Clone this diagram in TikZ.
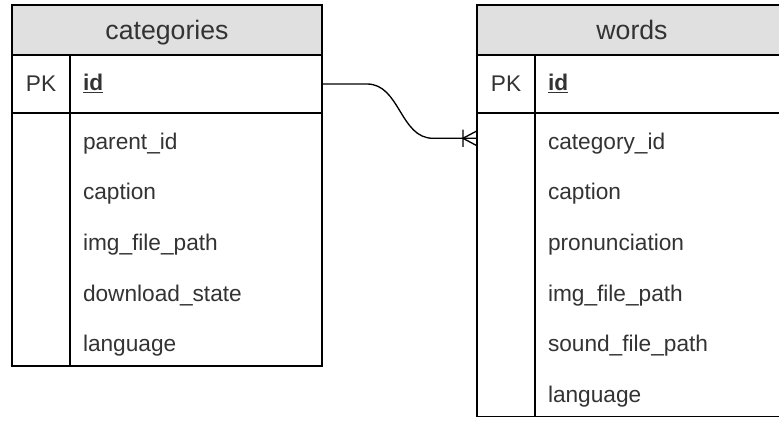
\documentclass[tikz,border=0pt]{standalone}
\usepackage{fontspec}
\setmainfont{Liberation Sans}
\usetikzlibrary{positioning,calc}
\definecolor{hdrgray}{HTML}{E0E0E0}
\definecolor{txtgray}{HTML}{333333}

\begin{document}
\begin{tikzpicture}[x=0.75pt,y=-0.75pt,line width=1.2pt,every node/.style={outer sep=0pt},
  hdr/.style={draw,fill=hdrgray,minimum width=232.5pt,minimum height=37.5pt,inner sep=0pt,
    text height=15pt,text depth=1.5pt,text=txtgray,font=\fontsize{20}{24}\selectfont},
  keycell/.style={draw,minimum width=43.5pt,inner sep=0pt,text=txtgray,font=\fontsize{17}{20}\selectfont},
  fld/.style={minimum width=189pt,minimum height=37.95pt,text width=169.5pt,align=left,inner xsep=9.75pt,inner ysep=0pt,
    text height=17pt,text depth=0.5pt,text=txtgray,font=\fontsize{17}{20}\selectfont},
  pkname/.style={fld,draw,minimum height=43.5pt,text height=12.5pt,text depth=3.5pt},
  namecol/.style={draw,minimum width=189pt,inner sep=0pt},
  rel/.style={line width=1pt}]
\useasboundingbox (0,0) rectangle (779,421);
\clip (0,0) rectangle (779,421);

% categories
\node[hdr,anchor=north west] (cat) at (12,5) {categories};
\node[keycell,minimum height=43.5pt,below right=0pt of cat.south west] (catpkk) {PK};
\node[pkname,right=0pt of catpkk] (catpk) {\underline{\textbf{id}}};
\node[keycell,minimum height=5*37.95pt,below right=0pt of catpkk.south west] (catkeys) {};
\node[namecol,minimum height=5*37.95pt,right=0pt of catkeys] (catnames) {};
\node[fld,below right=0pt of catpk.south west] (cf1) {parent\_id};
\node[fld,below=0pt of cf1] (cf2) {caption};
\node[fld,below=0pt of cf2] (cf3) {img\_file\_path};
\node[fld,below=0pt of cf3] (cf4) {download\_state};
\node[fld,below=0pt of cf4] (cf5) {language};

% words
\node[hdr,anchor=north west] (word) at (477,5) {words};
\node[keycell,minimum height=43.5pt,below right=0pt of word.south west] (wordpkk) {PK};
\node[pkname,right=0pt of wordpkk] (wordpk) {\underline{\textbf{id}}};
\node[keycell,minimum height=6*37.95pt,below right=0pt of wordpkk.south west] (wordkeys) {};
\node[namecol,minimum height=6*37.95pt,right=0pt of wordkeys] (wordnames) {};
\node[fld,below right=0pt of wordpk.south west] (wf1) {category\_id};
\node[fld,below=0pt of wf1] (wf2) {caption};
\node[fld,below=0pt of wf2] (wf3) {pronunciation};
\node[fld,below=0pt of wf3] (wf4) {img\_file\_path};
\node[fld,below=0pt of wf4] (wf5) {sound\_file\_path};
\node[fld,below=0pt of wf5] (wf6) {language};

% one category -> many words
\coordinate (fk) at (wordkeys.west |- wf1);
\draw[rel] (catpk.east) -- ++(45,0) .. controls +(33,0) and +(-33,0) .. ([xshift=-33pt]fk) -- (fk);
\draw[rel] ([xshift=-10.5pt]fk) -- ([yshift=5.6pt]fk)
  ([xshift=-10.5pt]fk) -- ([yshift=-5.6pt]fk)
  ([xshift=-10.5pt,yshift=6.5pt]fk) -- ([xshift=-10.5pt,yshift=-6.5pt]fk);
\end{tikzpicture}
\end{document}
